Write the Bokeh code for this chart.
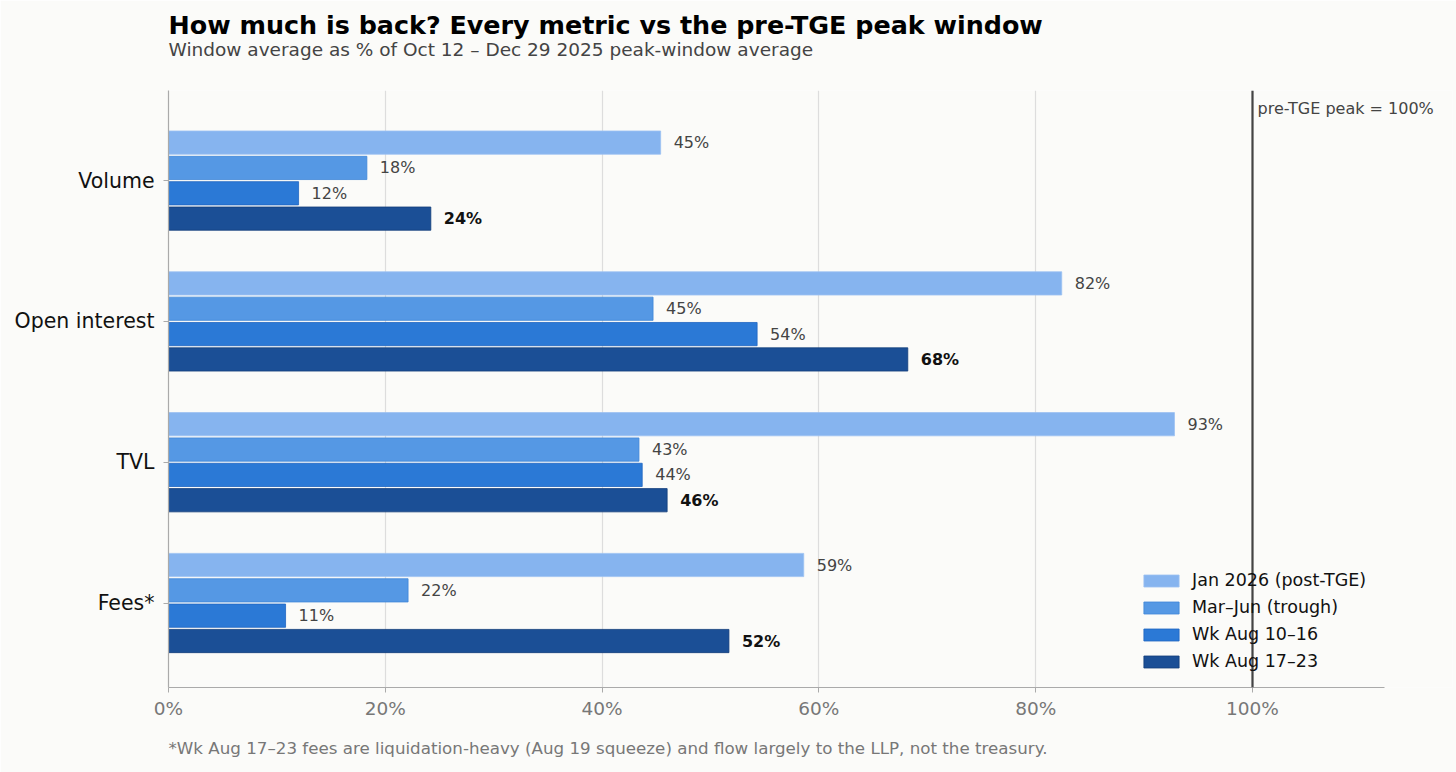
from bokeh.plotting import figure
from bokeh.models import (Range1d, FixedTicker, Span, Label, Title, Legend,
                          LegendItem, ColumnDataSource)
from bokeh.embed import file_html
from bokeh.resources import INLINE
from bokeh.core.properties import value

# ---------------- data ----------------
categories = ["Volume", "Open interest", "TVL", "Fees*"]
series_names = ["Jan 2026 (post-TGE)", "Mar–Jun (trough)", "Wk Aug 10–16", "Wk Aug 17–23"]
jan_2026 = [45.4, 82.4, 92.8, 58.6]
mar_jun = [18.3, 44.7, 43.4, 22.1]
wk_aug_10_16 = [12.0, 54.3, 43.7, 10.8]
wk_aug_17_23 = [24.2, 68.2, 46.0, 51.7]
x_ticks = [0, 20, 40, 60, 80, 100]
x_tick_labels = ["0%", "20%", "40%", "60%", "80%", "100%"]
reference_level = 100
axis_end = 112.2

title = "How much is back? Every metric vs the pre-TGE peak window"
subtitle = "Window average as % of Oct 12 – Dec 29 2025 peak-window average"
footnote = "*Wk Aug 17–23 fees are liquidation-heavy (Aug 19 squeeze) and flow largely to the LLP, not the treasury."
ref_label = "pre-TGE peak = 100%"

# ---------------- style ----------------
FONT = "DejaVu Sans"
BG = "#fbfbf9"
fills = ["#86b4ef", "#5598e4", "#2b79d6", "#1b4f96"]
edges = ["#9cc2f2", "#3f86d8", "#1f66c2", "#123c7a"]
offsets = [0.27, 0.09, -0.09, -0.27]
bar_h = 0.165

series_values = [jan_2026, mar_jun, wk_aug_10_16, wk_aug_17_23]
n = len(categories)
cat_pos = [n - 1 - i for i in range(n)]

W, H = 1456, 772
left_b, right_b, top_b, bottom_b = 168, 4, 90, 85
px_per_unit = 10.84
x_max = (W - left_b - right_b) / px_per_unit

p = figure(width=W, height=H, output_backend="svg", toolbar_location=None,
           x_range=Range1d(0, x_max), y_range=Range1d(-0.60, 3.64),
           min_border_left=left_b, min_border_right=right_b, min_border_top=top_b,
           min_border_bottom=bottom_b, background_fill_color=BG, border_fill_color=BG,
           outline_line_color=None, title=None)

items = []
for k, (name, vals) in enumerate(zip(series_names, series_values)):
    src = ColumnDataSource(dict(
        y=[c + offsets[k] for c in cat_pos],
        right=vals,
        label=[f"{round(v)}%" for v in vals],
    ))
    r = p.hbar(y="y", left=0, right="right", height=bar_h, source=src,
               fill_color=fills[k], line_color=edges[k], line_width=0.8)
    items.append(LegendItem(label=name, renderers=[r]))
    last = (k == len(series_names) - 1)
    p.text(x="right", y="y", text="label", source=src, x_offset=13,
           text_baseline="middle", text_align="left",
           text_font=value(FONT), text_font_size="16px",
           text_font_style="bold" if last else "normal",
           text_color="#111111" if last else "#444444")

# reference line
p.add_layout(Span(location=reference_level, dimension="height",
                  line_color="#444444", line_width=2.2))
p.add_layout(Label(x=reference_level, y=3.64, x_offset=5, y_offset=-8,
                   text=ref_label, text_baseline="top", text_align="left",
                   text_font=FONT, text_font_size="16px", text_color="#444444"))

# axes
p.xaxis.bounds = (0, axis_end)
p.xaxis.ticker = FixedTicker(ticks=x_ticks)
p.xaxis.major_label_overrides = {t: l for t, l in zip(x_ticks, x_tick_labels)}
p.xaxis.major_label_text_font = FONT
p.xaxis.major_label_text_font_size = "18.5px"
p.xaxis.major_label_text_color = "#777777"
p.xaxis.axis_line_color = "#aaaaaa"
p.xaxis.axis_line_width = 1.2
p.xaxis.major_tick_line_color = "#aaaaaa"
p.xaxis.major_tick_in = 0
p.xaxis.major_tick_out = 5
p.xaxis.minor_tick_line_color = None
p.xaxis.minor_tick_out = 0
p.xaxis.major_label_standoff = 5

p.yaxis.ticker = FixedTicker(ticks=cat_pos)
p.yaxis.major_label_overrides = {c: name for c, name in zip(cat_pos, categories)}
p.yaxis.major_label_text_font = FONT
p.yaxis.major_label_text_font_size = "20.5px"
p.yaxis.major_label_text_color = "#111111"
p.yaxis.axis_line_color = "#aaaaaa"
p.yaxis.axis_line_width = 1.2
p.yaxis.major_tick_line_color = "#aaaaaa"
p.yaxis.major_tick_in = 0
p.yaxis.major_tick_out = 5
p.yaxis.minor_tick_line_color = None
p.yaxis.minor_tick_out = 0
p.yaxis.major_label_standoff = 9

p.xgrid.grid_line_color = "#dddddd"
p.xgrid.grid_line_width = 1.2
p.ygrid.grid_line_color = None

# legend
legend = Legend(items=items, location=(967, 12), background_fill_alpha=0,
                border_line_alpha=0, label_text_font=FONT,
                label_text_font_size="17.5px", label_text_color="#111111",
                glyph_width=44, glyph_height=15, label_height=20,
                label_standoff=9, spacing=7, padding=4, margin=0)
p.add_layout(legend)

# spacer between frame and subtitle
p.add_layout(Title(text=" ", align="left", text_font=FONT, text_font_size="10px",
                   standoff=18), "above")

# titles
p.add_layout(Title(text=subtitle, align="left", text_font=FONT,
                   text_font_size="18.5px", text_font_style="normal",
                   text_color="#444444", standoff=0), "above")
p.add_layout(Title(text=title, align="left", text_font=FONT,
                   text_font_size="25.4px", text_font_style="bold",
                   text_color="#000000", standoff=-6), "above")
p.add_layout(Title(text=footnote, align="left", text_font=FONT,
                   text_font_size="16.7px", text_font_style="normal",
                   text_color="#777777", standoff=29), "below")

html = file_html(p, INLINE)
html = html.replace("<body>", f'<body style="background-color:{BG};">', 1)
open("out.html", "w").write(html)
